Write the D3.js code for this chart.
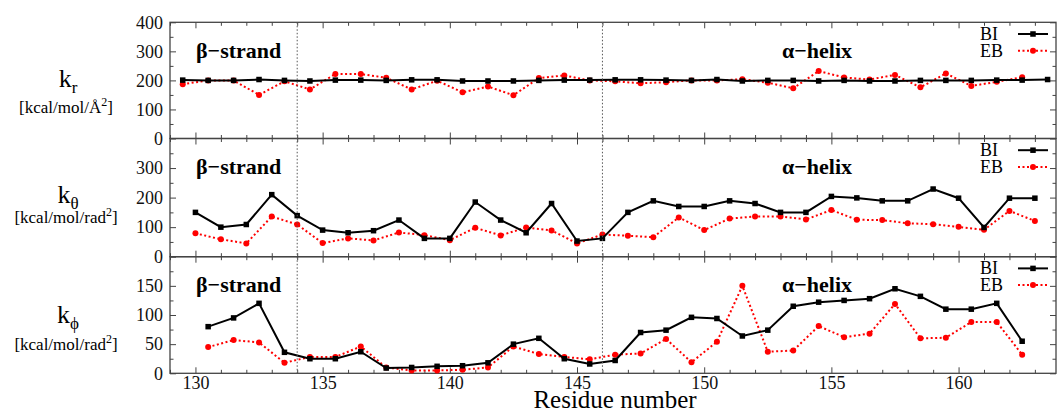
<!DOCTYPE html>
<html>
<head>
<meta charset="utf-8">
<script src="https://cdn.jsdelivr.net/npm/d3@7"></script>
<style>
  body { margin: 0; background: #fff; }
  svg { display: block; font-family: "Liberation Serif", "DejaVu Serif", serif; }
</style>
</head>
<body>
<svg id="chart" width="1057" height="411"></svg>
<script>
// residue positions for each panel
var residueR = [129.5, 130.5, 131.5, 132.5, 133.5, 134.5, 135.5, 136.5, 137.5, 138.5, 139.5, 140.5,
  141.5, 142.5, 143.5, 144.5, 145.5, 146.5, 147.5, 148.5, 149.5, 150.5, 151.5, 152.5, 153.5, 154.5,
  155.5, 156.5, 157.5, 158.5, 159.5, 160.5, 161.5, 162.5, 163.5];
var residueTheta = [130, 131, 132, 133, 134, 135, 136, 137, 138, 139, 140, 141, 142, 143, 144, 145,
  146, 147, 148, 149, 150, 151, 152, 153, 154, 155, 156, 157, 158, 159, 160, 161, 162, 163];
var residuePhi = [130.5, 131.5, 132.5, 133.5, 134.5, 135.5, 136.5, 137.5, 138.5, 139.5, 140.5, 141.5,
  142.5, 143.5, 144.5, 145.5, 146.5, 147.5, 148.5, 149.5, 150.5, 151.5, 152.5, 153.5, 154.5, 155.5,
  156.5, 157.5, 158.5, 159.5, 160.5, 161.5, 162.5];

// k_r values
var krBI = [201, 200, 200, 203, 200, 198, 201, 201, 200, 202, 202, 198, 198, 198, 200, 201, 201, 202,
  202, 201, 200, 203, 198, 200, 200, 198, 200, 198, 198, 200, 200, 200, 201, 201, 203];
var krEB = [187, 200, 200, 150, 197, 169, 222, 222, 209, 169, 199, 159, 179, 149, 208, 217, 200, 197,
  190, 194, 200, 200, 204, 192, 173, 232, 210, 203, 219, 176, 224, 181, 195, 211];

// k_theta values
var kthBI = [150, 100, 109, 210, 139, 90, 81, 88, 124, 62, 62, 185, 124, 81, 180, 53, 62, 150, 189,
  170, 170, 189, 180, 150, 150, 204, 199, 189, 189, 229, 198, 99, 198, 198];
var kthEB = [79, 59, 45, 136, 109, 46, 62, 55, 82, 73, 56, 98, 72, 99, 89, 45, 75, 71, 66, 133, 90,
  129, 136, 136, 126, 158, 125, 124, 113, 110, 101, 91, 155, 121];

// k_phi values
var kphBI = [80, 95, 120, 36, 25, 25, 37, 9, 10, 12, 13, 18, 50, 60, 25, 16, 22, 70, 74, 96, 94, 64,
  74, 115, 122, 125, 128, 145, 132, 110, 110, 120, 55];
var kphEB = [45, 57, 53, 18, 28, 28, 46, 10, 5, 5, 6, 10, 46, 33, 28, 24, 32, 34, 59, 19, 54, 150,
  37, 39, 81, 62, 68, 119, 60, 61, 88, 88, 32];

var xMajor = [130, 135, 140, 145, 150, 155, 160];
var xMinor = [129, 131, 132, 133, 134, 136, 137, 138, 139, 141, 142, 143, 144, 146, 147, 148, 149,
  151, 152, 153, 154, 156, 157, 158, 159, 161, 162, 163];
var boundaries = [134, 146];
var seriesNames = ["BI", "EB"];

var svg = d3.select("#chart");
var left = 170, right = 1056;

var x = d3.scaleLinear().domain([129, 163.83]).range([left, right]);

var panels = [
  { sub: "r", unit: "kcal/mol/Å", top: 22.3, bottom: 138.5, max: 400,
    major: [0, 100, 200, 300, 400], minor: [50, 150, 250, 350],
    xs: residueR, bi: krBI, eb: krEB, kY: 86.7, uY: 112.7 },
  { sub: "θ", unit: "kcal/mol/rad", top: 138.5, bottom: 256.7, max: 400,
    major: [0, 100, 200, 300], minor: [50, 150, 250, 350],
    xs: residueTheta, bi: kthBI, eb: kthEB, kY: 203, uY: 222.5 },
  { sub: "ϕ", unit: "kcal/mol/rad", top: 256.7, bottom: 373.3, max: 200,
    major: [0, 50, 100, 150], minor: [25, 75, 125, 175],
    xs: residuePhi, bi: kphBI, eb: kphEB, kY: 323, uY: 349.5 }
];

var axisColor = "#444";

panels.forEach(function(p, i) {
  var y = d3.scaleLinear().domain([0, p.max]).range([p.bottom, p.top]);
  var g = svg.append("g");
  var last = i === panels.length - 1;

  // ticks (inside, mirrored on all four sides)
  function addAxis(axis, tx, ty) {
    var a = g.append("g").attr("transform", "translate(" + tx + "," + ty + ")").call(axis);
    a.select(".domain").remove();
    a.selectAll("line").attr("stroke", axisColor).attr("stroke-width", 1);
    a.selectAll("text").attr("fill", "#111").style("font-size", "18px")
      .style("font-family", "Liberation Serif, serif");
    return a;
  }
  addAxis(d3.axisBottom(x).tickValues(xMajor).tickSize(-6).tickPadding(3)
    .tickFormat(last ? d3.format("d") : ""), 0, p.bottom);
  addAxis(d3.axisBottom(x).tickValues(xMinor).tickSize(-3.5).tickFormat(""), 0, p.bottom);
  addAxis(d3.axisTop(x).tickValues(xMajor).tickSize(-6).tickFormat(""), 0, p.top);
  addAxis(d3.axisTop(x).tickValues(xMinor).tickSize(-3.5).tickFormat(""), 0, p.top);
  addAxis(d3.axisLeft(y).tickValues(p.major).tickSize(-6).tickPadding(7)
    .tickFormat(d3.format("d")), left, 0);
  addAxis(d3.axisLeft(y).tickValues(p.minor).tickSize(-3.5).tickFormat(""), left, 0);
  addAxis(d3.axisRight(y).tickValues(p.major).tickSize(-6).tickFormat(""), right, 0);
  addAxis(d3.axisRight(y).tickValues(p.minor).tickSize(-3.5).tickFormat(""), right, 0);

  // border
  g.append("rect").attr("x", left).attr("y", p.top)
    .attr("width", right - left).attr("height", p.bottom - p.top)
    .attr("fill", "none").attr("stroke", axisColor).attr("stroke-width", 1.3);

  // region labels
  g.append("text").attr("x", 196).attr("y", p.top + 35.5)
    .style("font-size", "22px").style("font-weight", "bold").text("β−strand");
  g.append("text").attr("x", 782).attr("y", p.top + 35.5)
    .style("font-size", "22px").style("font-weight", "bold").text("α−helix");

  // y label
  var kl = g.append("text").attr("x", 68).attr("y", p.kY).attr("text-anchor", "middle")
    .style("font-size", "26px");
  kl.append("tspan").text("k");
  kl.append("tspan").attr("dy", 6).style("font-size", "17px").text(p.sub);
  var ul = g.append("text").attr("x", 66).attr("y", p.uY).attr("text-anchor", "middle")
    .style("font-size", "17px");
  ul.append("tspan").text("[" + p.unit);
  ul.append("tspan").attr("dy", -7).style("font-size", "12px").text("2");
  ul.append("tspan").attr("dy", 7).text("]");

  var line = d3.line().x(function(d) { return x(d[0]); }).y(function(d) { return y(d[1]); });
  var bi = p.bi.map(function(v, j) { return [p.xs[j], v]; });
  var eb = p.eb.map(function(v, j) { return [p.xs[j], v]; });

  // EB (red dotted, circles)
  g.append("path").datum(eb).attr("d", line).attr("fill", "none")
    .attr("stroke", "#ff0000").attr("stroke-width", 2).attr("stroke-dasharray", "2,2.5");
  g.selectAll(".eb").data(eb).enter().append("circle")
    .attr("cx", function(d) { return x(d[0]); }).attr("cy", function(d) { return y(d[1]); })
    .attr("r", 3).attr("fill", "#ff0000");

  // BI (black solid, squares)
  g.append("path").datum(bi).attr("d", line).attr("fill", "none")
    .attr("stroke", "#000").attr("stroke-width", 2);
  g.selectAll(".bi").data(bi).enter().append("rect")
    .attr("x", function(d) { return x(d[0]) - 2.75; }).attr("y", function(d) { return y(d[1]) - 2.75; })
    .attr("width", 5.5).attr("height", 5.5).attr("fill", "#000");

  // legend
  var lg = g.append("g");
  lg.append("text").attr("x", 980).attr("y", p.top + 17.7).style("font-size", "18px").text(seriesNames[0]);
  lg.append("text").attr("x", 980).attr("y", p.top + 34.4).style("font-size", "18px").text(seriesNames[1]);
  lg.append("line").attr("x1", 1018).attr("x2", 1048).attr("y1", p.top + 11.7).attr("y2", p.top + 11.7)
    .attr("stroke", "#000").attr("stroke-width", 2);
  lg.append("rect").attr("x", 1033 - 2.75).attr("y", p.top + 11.7 - 2.75).attr("width", 5.5).attr("height", 5.5);
  lg.append("line").attr("x1", 1018).attr("x2", 1048).attr("y1", p.top + 28.4).attr("y2", p.top + 28.4)
    .attr("stroke", "#ff0000").attr("stroke-width", 2).attr("stroke-dasharray", "2,2.5");
  lg.append("circle").attr("cx", 1033).attr("cy", p.top + 28.4).attr("r", 3).attr("fill", "#ff0000");
});

// secondary-structure boundaries
boundaries.forEach(function(b) {
  svg.append("line").attr("x1", x(b)).attr("x2", x(b)).attr("y1", 22.3).attr("y2", 373.3)
    .attr("stroke", "#555").attr("stroke-width", 1).attr("stroke-dasharray", "1.5,2");
});

svg.append("text").attr("x", 615).attr("y", 408).attr("text-anchor", "middle")
  .style("font-size", "25px").text("Residue number");
</script>
</body>
</html>
